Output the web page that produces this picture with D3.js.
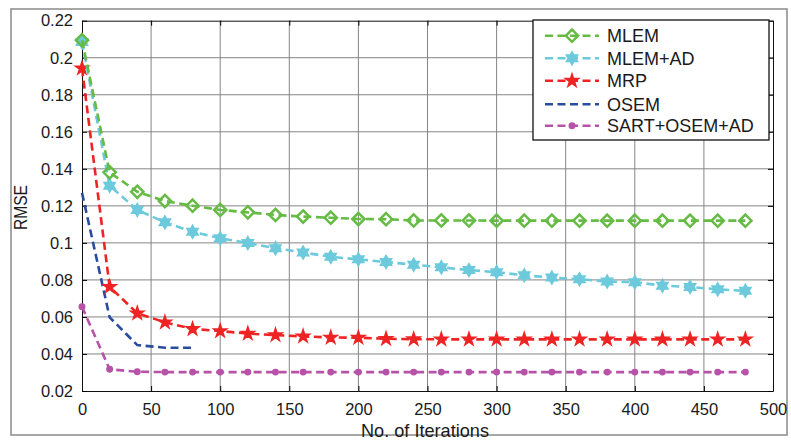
<!DOCTYPE html>
<html><head><meta charset="utf-8">
<script src="https://cdn.jsdelivr.net/npm/d3@7"></script>
<style>body{margin:0;background:#fff}svg{display:block}text{font-family:"Liberation Sans",Arial,sans-serif;fill:#1a1a1a}</style>
</head><body><svg id="c" width="791" height="440"></svg>
<script>
const iterations = [0,20,40,60,80,100,120,140,160,180,200,220,240,260,280,300,320,340,360,380,400,420,440,460,480];
const mlem   = [0.2095,0.1381,0.1276,0.1226,0.1201,0.1178,0.1165,0.1151,0.1142,0.1136,0.1129,0.1128,0.1121,0.1121,0.1121,0.1120,0.1120,0.1120,0.1120,0.1120,0.1120,0.1120,0.1120,0.1120,0.1120];
const mlemAd = [0.2085,0.1309,0.1178,0.1111,0.1060,0.1025,0.0999,0.0971,0.0948,0.0925,0.0911,0.0897,0.0882,0.0868,0.0853,0.0842,0.0825,0.0813,0.0804,0.0791,0.0788,0.0769,0.0762,0.0749,0.0741];
const mrp    = [0.1943,0.0763,0.0620,0.0571,0.0535,0.0524,0.0510,0.0502,0.0495,0.0489,0.0488,0.0482,0.0480,0.0479,0.0479,0.0479,0.0479,0.0479,0.0479,0.0479,0.0479,0.0479,0.0479,0.0479,0.0479];
const osemIter = [0,20,40,60,80];
const osem   = [0.127,0.0598,0.0448,0.0434,0.0434];
const sart   = [0.0655,0.0317,0.0304,0.0302,0.0302,0.0302,0.0302,0.0302,0.0302,0.0302,0.0302,0.0302,0.0302,0.0302,0.0302,0.0302,0.0302,0.0302,0.0302,0.0302,0.0302,0.0302,0.0302,0.0302,0.0302];
const seriesNames = ["MLEM","MLEM+AD","MRP","OSEM","SART+OSEM+AD"];
const xTicks = [0,50,100,150,200,250,300,350,400,450,500];
const yTicks = [0.02,0.04,0.06,0.08,0.1,0.12,0.14,0.16,0.18,0.2,0.22];
const yTickLabels = ["0.02","0.04","0.06","0.08","0.1","0.12","0.14","0.16","0.18","0.2","0.22"];
const xLabel = "No. of Iterations", yLabel = "RMSE";

const svg = d3.select("#c");
const L=82,R=773,T=20.7,B=391;
const x = d3.scaleLinear().domain([0,500]).range([L,R]);
const y = d3.scaleLinear().domain([0.02,0.22]).range([B,T]);

svg.append("rect").attr("x",11).attr("y",9).attr("width",776).attr("height",426).attr("fill","none").attr("stroke","#8a8a8a").attr("stroke-width",1.5);

const g = svg.append("g");
g.selectAll(".gx").data(xTicks.slice(1,-1)).enter().append("line")
 .attr("x1",d=>x(d)).attr("x2",d=>x(d)).attr("y1",T).attr("y2",B).attr("stroke","#858585").attr("stroke-width",1);
g.selectAll(".gy").data(yTicks.slice(1,-1)).enter().append("line")
 .attr("y1",d=>y(d)).attr("y2",d=>y(d)).attr("x1",L).attr("x2",R).attr("stroke","#858585").attr("stroke-width",1);

const ax = (a)=>a.tickSizeInner(-5).tickSizeOuter(0);
svg.append("g").attr("transform",`translate(0,${B})`).call(ax(d3.axisBottom(x).tickValues(xTicks).tickFormat(d3.format("d"))).tickPadding(12))
  .call(s=>{s.select(".domain").attr("stroke","#111");s.selectAll("text").attr("font-size",16.5).attr("fill","#1a1a1a").attr("font-family","Liberation Sans, Arial");});
svg.append("g").attr("transform",`translate(0,${T})`).call(ax(d3.axisTop(x).tickValues(xTicks)).tickFormat(""))
  .call(s=>s.select(".domain").attr("stroke","#111"));
svg.append("g").attr("transform",`translate(${L},0)`).call(ax(d3.axisLeft(y).tickValues(yTicks).tickFormat((d,i)=>yTickLabels[i])).tickPadding(9))
  .call(s=>{s.select(".domain").attr("stroke","#111");s.selectAll("text").attr("font-size",16.5).attr("fill","#1a1a1a").attr("font-family","Liberation Sans, Arial");});
svg.append("g").attr("transform",`translate(${R},0)`).call(ax(d3.axisRight(y).tickValues(yTicks)).tickFormat(""))
  .call(s=>s.select(".domain").attr("stroke","#111"));

svg.append("text").attr("x",425).attr("y",437).attr("text-anchor","middle").attr("font-size",19)
  .attr("textLength",128).attr("lengthAdjust","spacingAndGlyphs").text(xLabel);
svg.append("text").attr("transform","translate(27,207.5) rotate(-90)").attr("text-anchor","middle").attr("font-size",18)
  .attr("textLength",45).attr("lengthAdjust","spacingAndGlyphs").text(yLabel);

const hexagram = {draw(ctx,size){const r=Math.sqrt(size)*0.62, ri=r/Math.sqrt(3);
  for(let k=0;k<12;k++){const a=-Math.PI/2+k*Math.PI/6, rr=k%2?ri:r; const px=rr*Math.cos(a),py=rr*Math.sin(a); k?ctx.lineTo(px,py):ctx.moveTo(px,py);} ctx.closePath();}};
const diamond = {draw(ctx,size){const r=Math.sqrt(size)*0.5; ctx.moveTo(0,-r);ctx.lineTo(r,0);ctx.lineTo(0,r);ctx.lineTo(-r,0);ctx.closePath();}};
const styles = [
 {name:seriesNames[0],xs:iterations,ys:mlem,color:"#66bb44",sym:diamond,size:150,fill:"none",sw:2.5},
 {name:seriesNames[1],xs:iterations,ys:mlemAd,color:"#6ccadc",sym:hexagram,size:110,fill:"#6ccadc",sw:1.5},
 {name:seriesNames[2],xs:iterations,ys:mrp,color:"#ee2424",sym:d3.symbolStar,size:50,fill:"#ee2424",sw:1.6},
 {name:seriesNames[3],xs:osemIter,ys:osem,color:"#2a4c9e",sym:null},
 {name:seriesNames[4],xs:iterations,ys:sart,color:"#b653a8",sym:d3.symbolCircle,size:38,fill:"#b653a8",sw:0}
];
const line = d3.line().x(d=>x(d[0])).y(d=>y(d[1]));
const plot = svg.append("g");
styles.slice().reverse().forEach(s=>{
  const pts = s.xs.map((v,i)=>[v,s.ys[i]]);
  plot.append("path").attr("d",line(pts)).attr("fill","none").attr("stroke",s.color).attr("stroke-width",2.6).attr("stroke-dasharray","8,4.5");
  if(s.sym){
    plot.selectAll(null).data(pts).enter().append("path")
      .attr("d",d3.symbol().type(s.sym).size(s.size)).attr("transform",d=>`translate(${x(d[0])},${y(d[1])})`)
      .attr("fill",s.fill).attr("stroke",s.color).attr("stroke-width",s.sw);
  }
});

const lg = svg.append("g");
lg.append("rect").attr("x",533).attr("y",20).attr("width",236).attr("height",120).attr("fill","#fff").attr("stroke","#111").attr("stroke-width",1.3);
const rows=[35.7,58.3,80.7,104.3,125.7];
styles.forEach((s,i)=>{
  const yy=rows[i];
  lg.append("line").attr("x1",545).attr("x2",599).attr("y1",yy).attr("y2",yy).attr("stroke",s.color).attr("stroke-width",2.6).attr("stroke-dasharray","8,4.5");
  if(s.sym) lg.append("path").attr("d",d3.symbol().type(s.sym).size(s.size)).attr("transform",`translate(572,${yy})`).attr("fill",s.fill).attr("stroke",s.color).attr("stroke-width",s.sw);
  lg.append("text").attr("x",607).attr("y",yy+6.5).attr("font-size",18).text(s.name);
});
</script></body></html>
